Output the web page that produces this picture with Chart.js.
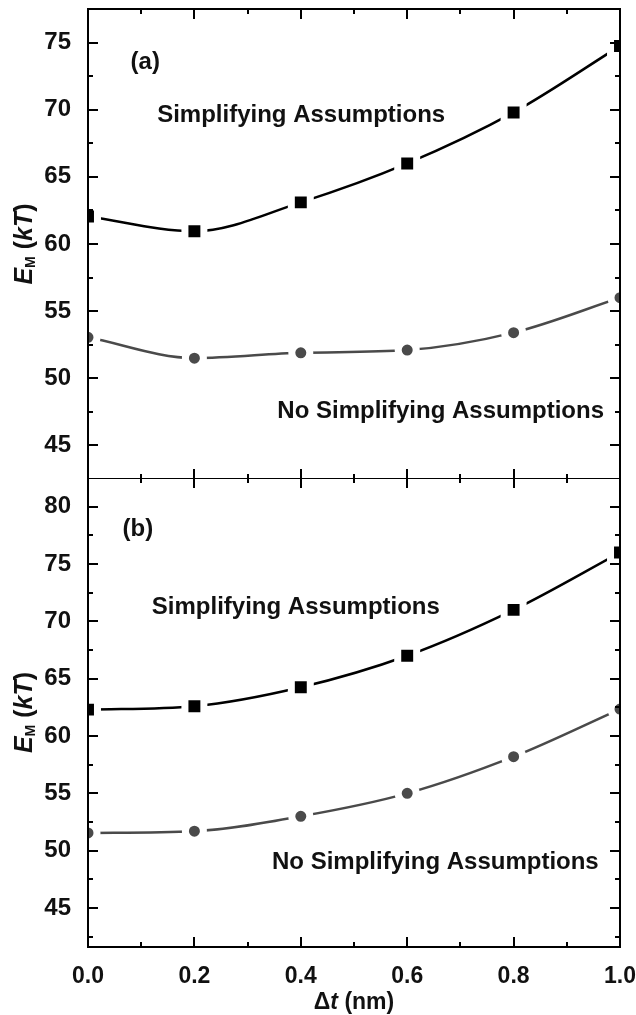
<!DOCTYPE html>
<html>
<head>
<title>E_M vs delta t</title>
<script src="https://cdn.jsdelivr.net/npm/chart.js@4/dist/chart.umd.min.js"></script>
<style>
  body { margin: 0; background: #fff; }
  .panel { position: absolute; left: 0; width: 636px; }
  #top { top: 0; height: 479px; }
  #bot { top: 478px; height: 537px; }
</style>
</head>
<body>
<div class="panel" id="top"><canvas id="chartA"></canvas></div>
<div class="panel" id="bot"><canvas id="chartB"></canvas></div>
<script>
// data
var dt = [0.0, 0.2, 0.4, 0.6, 0.8, 1.0];
var simpA   = [62.05, 60.95, 63.1, 66.0, 69.8, 74.75];
var noSimpA = [53.05, 51.5, 51.9, 52.1, 53.4, 56.0];
var simpB   = [62.3, 62.6, 64.25, 67.0, 71.0, 76.0];
var noSimpB = [51.55, 51.7, 53.0, 55.0, 58.2, 62.35];
var xTicks  = [0.0, 0.2, 0.4, 0.6, 0.8, 1.0];
var yTicksA = [45, 50, 55, 60, 65, 70, 75];
var yTicksB = [45, 50, 55, 60, 65, 70, 75, 80];

var FONT = '"Liberation Sans", Arial, sans-serif';

function pts(vals) {
  return dt.map(function (x, i) { return { x: x, y: vals[i] }; });
}

// the curve alone
function curve(vals, color) {
  return {
    data: pts(vals),
    borderColor: color,
    borderWidth: 2.5,
    cubicInterpolationMode: 'monotone',
    pointRadius: 0,
    clip: 0,
    order: 2
  };
}

// markers with a white halo so the curve stops short of them
function marks(vals, color, style, r) {
  return {
    data: pts(vals),
    showLine: false,
    pointStyle: style,
    pointRadius: r,
    pointBackgroundColor: color,
    pointBorderColor: '#fff',
    pointBorderWidth: 7,
    clip: 0,
    order: 1
  };
}

// frame + inward ticks on all four sides, then text annotations
var framePlugin = {
  id: 'frame',
  afterDraw: function (chart) {
    var c = chart.ctx, a = chart.chartArea;
    var xs = chart.scales.x, ys = chart.scales.y;
    var o = chart.options.plugins.frame;
    c.save();
    c.strokeStyle = '#000';
    c.lineWidth = 2;
    c.strokeRect(a.left, a.top, a.right - a.left, a.bottom - a.top);
    c.beginPath();
    for (var v = 0; v <= 1.0001; v += 0.1) {
      var px = Math.round(xs.getPixelForValue(v));
      var len = (Math.round(v * 10) % 2 === 0) ? 10 : 5;
      c.moveTo(px, a.top); c.lineTo(px, a.top + len);
      c.moveTo(px, a.bottom); c.lineTo(px, a.bottom - len);
    }
    for (var w = Math.ceil(ys.min / 2.5) * 2.5; w <= ys.max; w += 2.5) {
      var py = Math.round(ys.getPixelForValue(w));
      var l2 = (w % 5 === 0) ? 10 : 5;
      c.moveTo(a.left, py); c.lineTo(a.left + l2, py);
      c.moveTo(a.right, py); c.lineTo(a.right - l2, py);
    }
    c.stroke();

    c.fillStyle = '#111';
    c.textBaseline = 'middle';
    o.notes.forEach(function (n) {
      c.font = 'bold 24px ' + FONT;
      c.textAlign = n.align;
      c.fillText(n.text, xs.getPixelForValue(n.x), ys.getPixelForValue(n.y));
    });

    // y title: E_M (kT), rotated
    c.translate(25, (a.top + a.bottom) / 2);
    c.rotate(-Math.PI / 2);
    var parts = [
      { t: 'E', f: 'italic bold 25px ' + FONT, dy: 0 },
      { t: 'M', f: 'bold 14px ' + FONT, dy: 6 },
      { t: ' (', f: 'bold 25px ' + FONT, dy: 0 },
      { t: 'kT', f: 'italic bold 25px ' + FONT, dy: 0 },
      { t: ')', f: 'bold 25px ' + FONT, dy: 0 }
    ];
    var tot = 0;
    parts.forEach(function (p) { c.font = p.f; tot += c.measureText(p.t).width; });
    var cx = -tot / 2;
    c.textAlign = 'left';
    parts.forEach(function (p) {
      c.font = p.f;
      c.fillText(p.t, cx, p.dy);
      cx += c.measureText(p.t).width;
    });
    c.restore();

    if (o.xTitle) {
      c.save();
      c.fillStyle = '#111';
      c.textBaseline = 'middle';
      c.textAlign = 'left';
      var xp = [
        { t: '\u0394', f: 'bold 23px ' + FONT },
        { t: 't', f: 'italic bold 23px ' + FONT },
        { t: ' (nm)', f: 'bold 23px ' + FONT }
      ];
      var tw = 0;
      xp.forEach(function (p) { c.font = p.f; tw += c.measureText(p.t).width; });
      var sx = (a.left + a.right) / 2 - tw / 2;
      xp.forEach(function (p) {
        c.font = p.f;
        c.fillText(p.t, sx, 1003 - 478);
        sx += c.measureText(p.t).width;
      });
      c.restore();
    }
  }
};

function noPad(ax) {
  ax.paddingTop = 0; ax.paddingBottom = 0;
  ax.paddingLeft = 0; ax.paddingRight = 0;
}

function makeChart(id, s1, s2, ymin, ymax, yTicks, showX, notes, padTop, xHeight) {
  return new Chart(document.getElementById(id), {
    type: 'line',
    data: {
      datasets: [
        curve(s1, '#000'),
        curve(s2, '#4a4a4a'),
        marks(s1, '#000', 'rect', 13.4),
        marks(s2, '#4a4a4a', 'circle', 9)
      ]
    },
    options: {
      responsive: true,
      maintainAspectRatio: false,
      animation: false,
      events: [],
      layout: { autoPadding: false, padding: { top: padTop, right: 16, bottom: 0, left: 0 } },
      plugins: {
        legend: { display: false },
        tooltip: { enabled: false },
        frame: { notes: notes, xTitle: showX }
      },
      scales: {
        x: {
          type: 'linear',
          min: 0, max: 1,
          grid: { display: false },
          border: { display: false },
          afterBuildTicks: function (ax) { ax.ticks = xTicks.map(function (v) { return { value: v }; }); },
          afterFit: function (ax) { ax.height = xHeight; noPad(ax); },
          ticks: {
            display: showX,
            color: '#111',
            padding: 8,
            maxRotation: 0,
            font: { family: FONT, size: 23, weight: 'bold' },
            callback: function (v) { return v.toFixed(1); }
          }
        },
        y: {
          min: ymin, max: ymax,
          grid: { display: false },
          border: { display: false },
          afterBuildTicks: function (ax) { ax.ticks = yTicks.map(function (v) { return { value: v }; }); },
          afterFit: function (ax) { ax.width = 88; noPad(ax); },
          ticks: {
            color: '#111',
            padding: 9,
            font: { family: FONT, size: 24, weight: 'bold' }
          }
        }
      }
    },
    plugins: [framePlugin]
  });
}

makeChart('chartA', simpA, noSimpA, 42.5, 77.5, yTicksA, false, [
  { text: '(a)', x: 0.08, y: 73.5, align: 'left' },
  { text: 'Simplifying Assumptions', x: 0.13, y: 69.6, align: 'left' },
  { text: 'No Simplifying Assumptions', x: 0.97, y: 47.5, align: 'right' }
], 9, 0);

makeChart('chartB', simpB, noSimpB, 41.6, 82.5, yTicksB, true, [
  { text: '(b)', x: 0.065, y: 78.0, align: 'left' },
  { text: 'Simplifying Assumptions', x: 0.12, y: 71.2, align: 'left' },
  { text: 'No Simplifying Assumptions', x: 0.96, y: 49.0, align: 'right' }
], 0, 68);
</script>
</body>
</html>
